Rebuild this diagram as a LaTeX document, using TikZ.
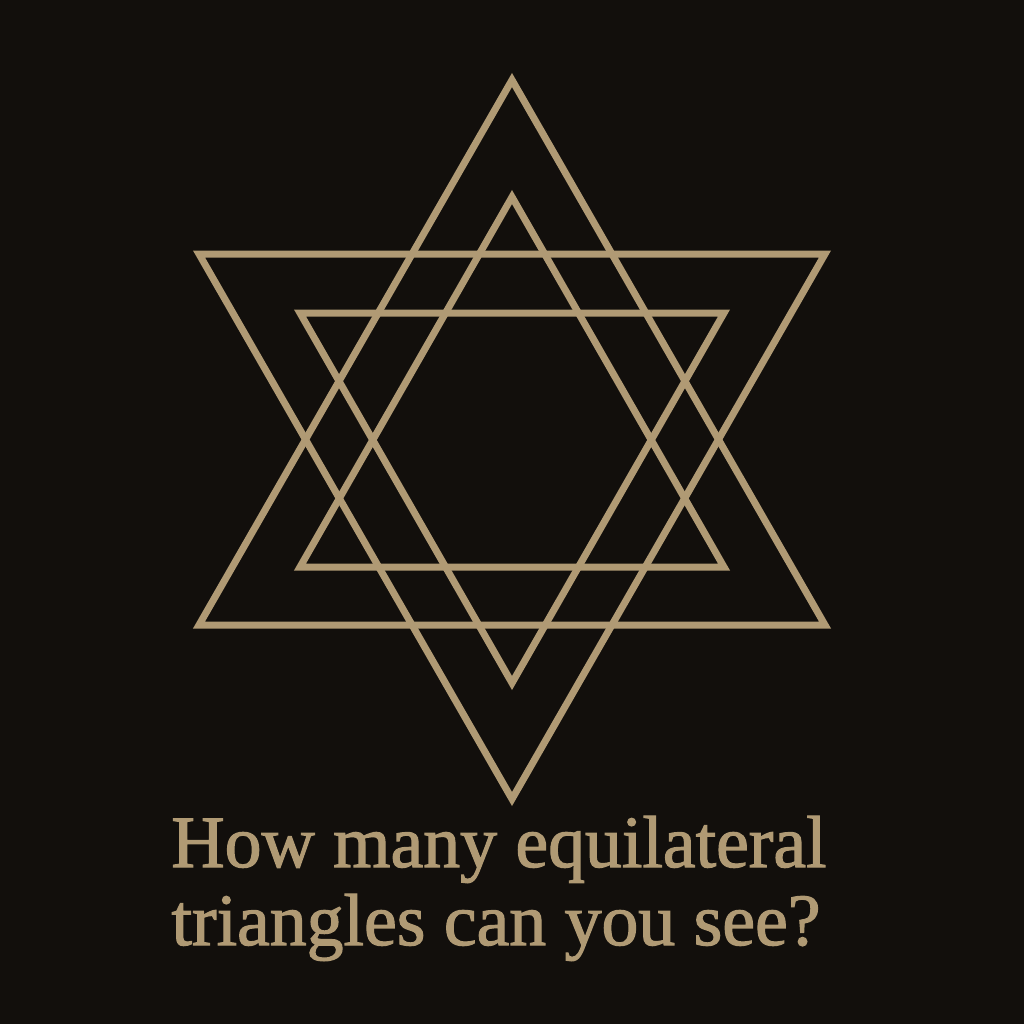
\documentclass[tikz,border=0pt]{standalone}
\usepackage{fontspec}
\setmainfont{Liberation Serif}
\newfontfamily\captionfont[FakeBold=1.6]{Liberation Serif}
\definecolor{bgdark}{RGB}{18,15,12}
\definecolor{gold}{RGB}{176,154,116}
\tikzset{
  tri/.style={draw=gold, line width=7bp, line join=miter, miter limit=10},
  caption/.style={text=gold, font=\captionfont\fontsize{74}{78}\selectfont, anchor=base, inner sep=0pt}
}
\begin{document}
\begin{tikzpicture}[x=1bp,y=-1bp]
  \useasboundingbox (0,0) rectangle (1024,1024);
  \fill[bgdark] (0,0) rectangle (1024,1024);
  % big upward triangle
  \draw[tri] (512,80) -- (825,625) -- (199,625) -- cycle;
  % big downward triangle
  \draw[tri] (199,254) -- (825,254) -- (512,799) -- cycle;
  % small upward triangle
  \draw[tri] (512,197) -- (724,567) -- (300,567) -- cycle;
  % small downward triangle
  \draw[tri] (300,313) -- (724,313) -- (512,683) -- cycle;
  % caption
  \node[caption] (line1) at (499,867) {How many equilateral};
  \node[caption] (line2) at (496,945) {triangles can you see?};
\end{tikzpicture}
\end{document}
